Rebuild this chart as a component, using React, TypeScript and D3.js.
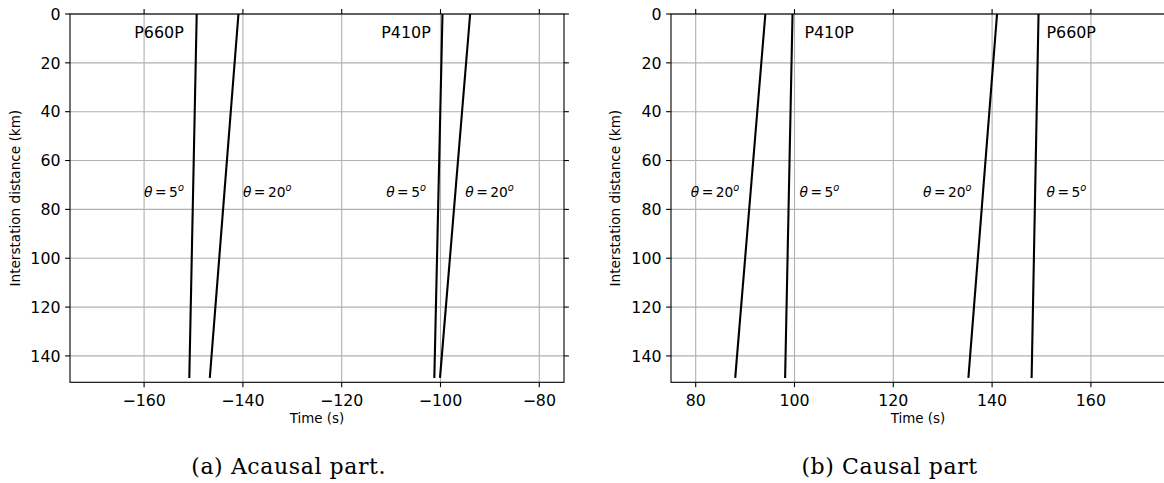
import React from 'react';
import * as d3 from 'd3';

// ---- data ----
const distanceKm = [0, 149];

const acausalSeries = [
  { phase: 'P660P', theta: 5, times: [-149.35, -150.85] },
  { phase: 'P660P', theta: 20, times: [-140.9, -146.7] },
  { phase: 'P410P', theta: 5, times: [-99.6, -101.25] },
  { phase: 'P410P', theta: 20, times: [-94.0, -100.1] },
];

const causalSeries = [
  { phase: 'P410P', theta: 20, times: [94.1, 88.0] },
  { phase: 'P410P', theta: 5, times: [99.6, 98.1] },
  { phase: 'P660P', theta: 20, times: [141.0, 135.2] },
  { phase: 'P660P', theta: 5, times: [149.4, 148.0] },
];

const acausalXTicks = [-160, -140, -120, -100, -80];
const causalXTicks = [80, 100, 120, 140, 160];
const yTicks = [0, 20, 40, 60, 80, 100, 120, 140];

const acausalDomain: [number, number] = [-175, -75];
const causalDomain: [number, number] = [75, 175];
const yDomain: [number, number] = [0, 150.8];

const acausalPhaseLabels = [
  { text: 'P660P', t: -162, d: 10 },
  { text: 'P410P', t: -112, d: 10 },
];
const causalPhaseLabels = [
  { text: 'P410P', t: 102, d: 10 },
  { text: 'P660P', t: 151, d: 10 },
];

const acausalThetaLabels = [
  { deg: 5, t: -160, d: 75 },
  { deg: 20, t: -140, d: 75 },
  { deg: 5, t: -111, d: 75 },
  { deg: 20, t: -95, d: 75 },
];
const causalThetaLabels = [
  { deg: 20, t: 79, d: 75 },
  { deg: 5, t: 101, d: 75 },
  { deg: 20, t: 126, d: 75 },
  { deg: 5, t: 151, d: 75 },
];

const xLabel = 'Time (s)';
const yLabel = 'Interstation distance (km)';
const captions = ['(a) Acausal part.', '(b) Causal part'];

// ---- layout ----
const W = 1164;
const H = 483;
const TOP = 14;
const BOTTOM = 382.3;
const FONT = 'DejaVu Sans, sans-serif';
const GRID = '#b0b0b0';
const fmt = d3.format('d');

type Series = { phase: string; theta: number; times: number[] };
type PhaseLabel = { text: string; t: number; d: number };
type ThetaLabel = { deg: number; t: number; d: number };

function Panel(props: {
  left: number;
  right: number;
  domain: [number, number];
  xTicks: number[];
  series: Series[];
  phaseLabels: PhaseLabel[];
  thetaLabels: ThetaLabel[];
  yLabelX: number;
  caption: string;
  captionX: number;
}) {
  const { left, right, domain, xTicks, series, phaseLabels, thetaLabels, yLabelX, caption, captionX } = props;
  const x = d3.scaleLinear().domain(domain).range([left, right]);
  const y = d3.scaleLinear().domain(yDomain).range([TOP, BOTTOM]);

  const pathFor = (s: Series) =>
    d3
      .line<[number, number]>()
      .x((p) => x(p[0]))
      .y((p) => y(p[1]))(s.times.map((t, i) => [t, distanceKm[i]] as [number, number])) || '';

  const tickLen = 4.9;
  return (
    <g>
      {/* grid */}
      {xTicks.map((t) => (
        <line key={'gx' + t} x1={x(t)} x2={x(t)} y1={TOP} y2={BOTTOM} stroke={GRID} strokeWidth={1.1} />
      ))}
      {yTicks.map((t) => (
        <line key={'gy' + t} x1={left} x2={right} y1={y(t)} y2={y(t)} stroke={GRID} strokeWidth={1.1} />
      ))}
      {/* series */}
      {series.map((s, i) => (
        <path key={'s' + i} d={pathFor(s)} fill="none" stroke="#000" strokeWidth={2.1} />
      ))}
      {/* annotations */}
      {phaseLabels.map((p, i) => (
        <text key={'p' + i} x={x(p.t)} y={y(p.d)} fontFamily={FONT} fontSize={15.9} fill="#000">
          {p.text}
        </text>
      ))}
      {thetaLabels.map((p, i) => (
        <text key={'th' + i} x={x(p.t)} y={y(p.d)} fontFamily={FONT} fontSize={13.8} fill="#000">
          <tspan fontStyle="italic">θ</tspan>
          <tspan dx={2.5}>=</tspan>
          <tspan dx={2.5}>{p.deg}</tspan>
          <tspan fontStyle="italic" fontSize={9.8} dy={-5.8}>o</tspan>
        </text>
      ))}
      {/* spines */}
      <rect x={left} y={TOP} width={right - left} height={BOTTOM - TOP} fill="none" stroke="#000" strokeWidth={1.1} />
      {/* ticks */}
      {xTicks.map((t) => (
        <g key={'tx' + t}>
          <line x1={x(t)} x2={x(t)} y1={BOTTOM} y2={BOTTOM + tickLen} stroke="#000" strokeWidth={1.1} />
          <line x1={x(t)} x2={x(t)} y1={TOP} y2={TOP - tickLen} stroke="#000" strokeWidth={1.1} />
          <text x={x(t)} y={405.5} textAnchor="middle" fontFamily={FONT} fontSize={15.8} fill="#000">
            {fmt(t)}
          </text>
        </g>
      ))}
      {yTicks.map((t) => (
        <g key={'ty' + t}>
          <line x1={left} x2={left - tickLen} y1={y(t)} y2={y(t)} stroke="#000" strokeWidth={1.1} />
          <line x1={right} x2={right + tickLen} y1={y(t)} y2={y(t)} stroke="#000" strokeWidth={1.1} />
          <text x={left - 9.5} y={y(t)} dy="0.36em" textAnchor="end" fontFamily={FONT} fontSize={15.8} fill="#000">
            {fmt(t)}
          </text>
        </g>
      ))}
      {/* axis labels */}
      <text x={(left + right) / 2} y={422.5} textAnchor="middle" fontFamily={FONT} fontSize={13.4} fill="#000">
        {xLabel}
      </text>
      <text
        transform={`translate(${yLabelX},${(TOP + BOTTOM) / 2}) rotate(-90)`}
        textAnchor="middle"
        fontFamily={FONT}
        fontSize={13.6}
        fill="#000"
      >
        {yLabel}
      </text>
      {/* caption */}
      <text x={captionX} y={474} textAnchor="middle" fontFamily="DejaVu Serif, serif" fontSize={22} letterSpacing={0.6} fill="#000">
        {caption}
      </text>
    </g>
  );
}

export default function App() {
  return (
    <svg
      width={W}
      height={H}
      viewBox={`0 0 ${W} ${H}`}
      style={{ position: 'absolute', left: 0, top: 0, background: '#fff' }}
    >
      <rect x={0} y={0} width={W} height={H} fill="#fff" />
      <Panel
        left={70}
        right={564}
        domain={acausalDomain}
        xTicks={acausalXTicks}
        series={acausalSeries}
        phaseLabels={acausalPhaseLabels}
        thetaLabels={acausalThetaLabels}
        yLabelX={20}
        caption={captions[0]}
        captionX={288.7}
      />
      <Panel
        left={671}
        right={1165}
        domain={causalDomain}
        xTicks={causalXTicks}
        series={causalSeries}
        phaseLabels={causalPhaseLabels}
        thetaLabels={causalThetaLabels}
        yLabelX={620}
        caption={captions[1]}
        captionX={889.6}
      />
    </svg>
  );
}
